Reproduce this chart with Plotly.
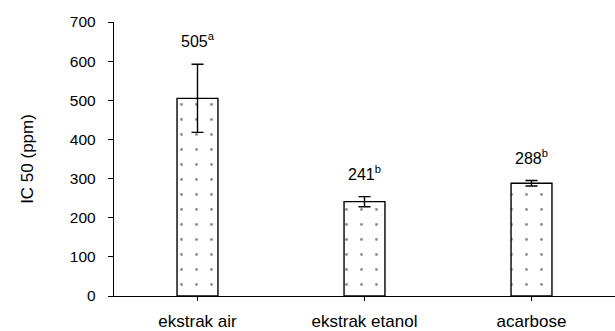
import plotly.graph_objects as go

categories = ["ekstrak air", "ekstrak etanol", "acarbose"]
values = [505, 241, 288]
errors = [87, 13, 7]
letters = ["a", "b", "b"]
y_ticks = [0, 100, 200, 300, 400, 500, 600, 700]

FONT = "Liberation Sans, Arial, sans-serif"

fig = go.Figure()
fig.add_trace(go.Bar(
    x=categories, y=values,
    error_y=dict(type="data", array=errors, visible=True, color="black", thickness=1.4, width=6),
    marker=dict(color="white", line=dict(color="black", width=1.4),
                pattern=dict(shape=".", fgcolor="#222222", bgcolor="white", size=15, solidity=0.03)),
    width=0.245,
))
for c, v, e, l in zip(categories, values, errors, letters):
    fig.add_annotation(x=c, y=v + e, text=f"{v}<sup>{l}</sup>", showarrow=False,
                       yanchor="bottom", yshift=12, font=dict(family=FONT, size=16, color="black"))

fig.update_layout(
    width=615, height=331, margin=dict(l=114, r=0, t=22, b=35),
    plot_bgcolor="white", paper_bgcolor="white", showlegend=False,
    font=dict(family=FONT, size=15, color="black"),
)
fig.update_xaxes(range=[-0.5, 2.5], showline=True, linecolor="black", linewidth=1.4,
                 ticks="outside", ticklen=4, tickcolor="black", showgrid=False,
                 ticklabelstandoff=5, automargin=False,
                 tickfont=dict(size=17, family=FONT))
fig.update_yaxes(range=[0, 700], tickvals=y_ticks, showline=True, linecolor="black", linewidth=1.4,
                 ticks="outside", ticklen=5, tickcolor="black", showgrid=False, zeroline=False,
                 ticklabelstandoff=9, automargin=False,
                 title=dict(text="IC 50 (ppm)", font=dict(size=17, family=FONT), standoff=31),
                 tickfont=dict(size=15.5, family=FONT))
fig.write_html("out.html")
